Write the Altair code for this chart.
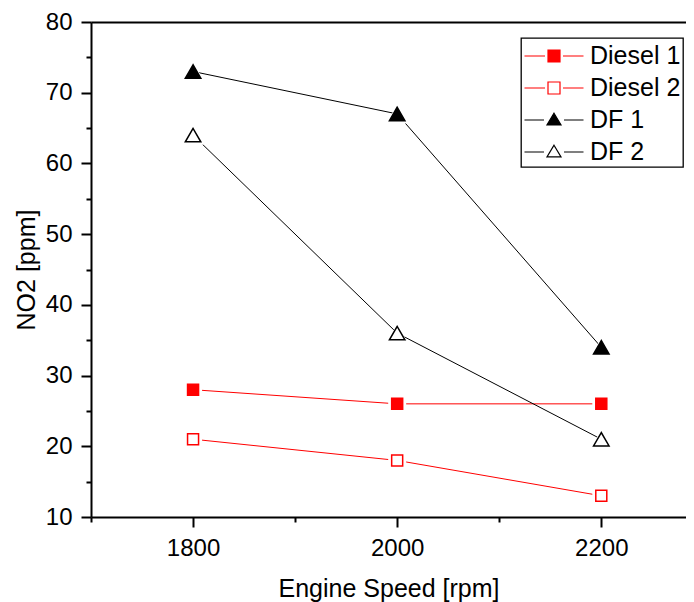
import altair as alt
import pandas as pd

# ---- data ----
series = ["Diesel 1", "Diesel 2", "DF 1", "DF 2"]
speed = [1800, 2000, 2200]
diesel1 = [28, 26, 26]
diesel2 = [21, 18, 13]
df1 = [73, 67, 34]
df2 = [64, 36, 21]
x_major = [1800, 2000, 2200]
x_minor = [1700, 1900, 2100]
y_major = [10, 20, 30, 40, 50, 60, 70, 80]
y_minor = [15, 25, 35, 45, 55, 65, 75]

rows = []
for name, vals in zip(series, [diesel1, diesel2, df1, df2]):
    for s, v in zip(speed, vals):
        rows.append({"speed": s, "no2": v, "series": name,
                     "kind": "square" if name.startswith("Diesel") else "triangle",
                     "solid": name.endswith("1")})
data = pd.DataFrame(rows)

W, H = 595, 495
FONT = "Liberation Sans"

xs = alt.Scale(domain=[1700, 2283], nice=False, zero=False)
ys = alt.Scale(domain=[10, 80], nice=False, zero=False)
color_scale = alt.Scale(domain=series, range=["#ff0000", "#ff0000", "#000000", "#000000"])
fill_scale = alt.Scale(domain=series, range=["#ff0000", "#ffffff", "#000000", "#ffffff"])

sq_path = "M-0.967,0H0.4M1.6,0H2.967M0.6,-0.4H1.4V0.4H0.6Z"
tri_path = "M-0.967,0H0.333M1.667,0H2.967M1,-0.45L1.467,0.33L0.533,0.33Z"
shape_scale = alt.Scale(domain=series, range=[sq_path, sq_path, tri_path, tri_path])

base = alt.Chart(data)
sq_data = base.transform_filter(alt.datum.kind == "square")
tri_data = base.transform_filter(alt.datum.kind == "triangle")

x_major_axis = alt.Axis(values=x_major, orient="bottom", title="Engine Speed [rpm]",
                        format="d", tickSize=10, labelPadding=9, titleY=79,
                        titleBaseline="alphabetic", grid=False)
y_major_axis = alt.Axis(values=y_major, orient="left", title="NO2 [ppm]", format="d",
                        tickSize=10, labelPadding=9, titleX=-57, titleY=H / 2,
                        titleAngle=270, titleBaseline="alphabetic", grid=False)
x_minor_axis = alt.Axis(values=x_minor, orient="bottom", title=None, labels=False,
                        domain=False, tickSize=5, grid=False)
y_minor_axis = alt.Axis(values=y_minor, orient="left", title=None, labels=False,
                        domain=False, tickSize=5, grid=False)
top_axis = alt.Axis(orient="top", title=None, labels=False, ticks=False,
                    domain=True, grid=False)

X = lambda axis: alt.X("speed:Q", scale=xs, axis=axis)
Y = lambda axis: alt.Y("no2:Q", scale=ys, axis=axis)
solid_fill = lambda c: alt.condition(alt.datum.solid, alt.value(c), alt.value("white"))

leg = alt.Legend(title=None, orient="none", legendX=430, legendY=16, padding=2,
                 rowPadding=3, labelFontSize=25, labelFont=FONT, labelColor="black",
                 labelOffset=35, symbolSize=900, symbolStrokeWidth=1.2,
                 symbolOpacity=1, strokeColor="black", fillColor="white")

legend_layer = base.mark_point(opacity=0, strokeWidth=1.2).encode(
    x=X(x_minor_axis),
    y=Y(y_minor_axis),
    color=alt.Color("series:N", scale=color_scale, legend=leg),
    fill=alt.Fill("series:N", scale=fill_scale, legend=leg),
    shape=alt.Shape("series:N", scale=shape_scale, legend=leg),
)

line_red = sq_data.mark_line(strokeWidth=1, color="#ff0000").encode(
    x=X(x_major_axis), y=Y(y_major_axis), detail="series:N")
line_blk = tri_data.mark_line(strokeWidth=1, color="#000000").encode(
    x=X(top_axis), y=Y(None), detail="series:N")

halo_sq = sq_data.mark_point(shape="square", size=324, filled=True, color="white",
                             opacity=1).encode(x=X(None), y=Y(None))
halo_tri = tri_data.mark_point(shape="triangle-up", size=480, filled=True, color="white",
                               opacity=1).encode(x=X(None), y=Y(None))

mk_sq = sq_data.mark_point(shape="square", size=121, strokeWidth=1.5, fillOpacity=1,
                           opacity=1, color="#ff0000").encode(
    x=X(None), y=Y(None), fill=solid_fill("#ff0000"))
mk_tri = tri_data.mark_point(shape="triangle-up", size=240, strokeWidth=1.5, fillOpacity=1,
                             opacity=1, color="#000000").encode(
    x=X(None), y=Y(None), fill=solid_fill("#000000"))

chart = alt.layer(legend_layer, line_red, line_blk, halo_sq, halo_tri, mk_sq, mk_tri).resolve_axis(
    x="independent", y="independent"
).properties(
    width=W, height=H,
    autosize=alt.AutoSizeParams(type="none"),
    padding={"left": 83, "top": 14, "right": 0, "bottom": 86},
).configure_view(stroke=None).configure_axis(
    labelFont=FONT, titleFont=FONT, labelFontSize=24, titleFontSize=25,
    labelColor="black", titleColor="black", domainColor="black", tickColor="black",
    domainWidth=2, tickWidth=2, titleFontWeight="normal", grid=False,
).configure_legend(strokeWidth=1.3)

chart.save("out.html", embed_options={"renderer": "svg", "actions": False})
